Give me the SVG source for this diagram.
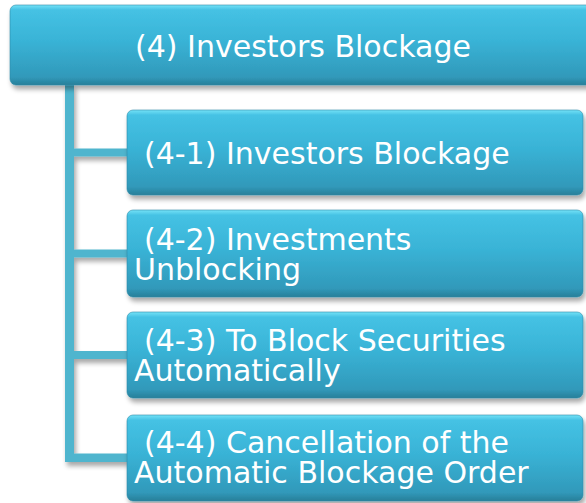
<svg xmlns="http://www.w3.org/2000/svg" width="586" height="503" viewBox="0 0 586 503">
  <defs>
    <linearGradient id="boxFill" x1="0" y1="0" x2="0" y2="1">
      <stop offset="0" stop-color="#74e2f7"/>
      <stop offset="0.06" stop-color="#45c2e4"/>
      <stop offset="0.45" stop-color="#39b3d6"/>
      <stop offset="0.9" stop-color="#3199ba"/>
      <stop offset="1" stop-color="#287f99"/>
    </linearGradient>
    <filter id="shadow" x="-10%" y="-10%" width="120%" height="130%">
      <feGaussianBlur in="SourceAlpha" stdDeviation="2.5"/>
      <feOffset dx="2" dy="4" result="b"/>
      <feComponentTransfer><feFuncA type="linear" slope="0.35"/></feComponentTransfer>
      <feMerge><feMergeNode/><feMergeNode in="SourceGraphic"/></feMerge>
    </filter>
  </defs>
  <style>
    .box { fill: url(#boxFill); stroke: #2c8ca8; stroke-width: 0.6; filter: url(#shadow); }
    .lbl { font-family: "DejaVu Sans", Verdana, sans-serif; font-size: 30px; fill: #ffffff; }
    .conn { fill: #4fb5ce; }
  </style>

  <g id="connectors" filter="url(#shadow)">
    <path class="conn" d="M65,85 H74 V148.5 H128 V156.5 H74 V249.5 H128 V257.5 H74 V351 H128 V359 H74 V453.5 H128 V462 H65 Z"/>
  </g>

  <g id="node-4">
    <rect class="box" x="10" y="5" width="590" height="80" rx="6"/>
    <text class="lbl" x="303" y="57" text-anchor="middle">(4) Investors Blockage</text>
  </g>

  <g id="node-4-1">
    <rect class="box" x="127" y="110" width="456" height="85" rx="6"/>
    <text class="lbl" x="144" y="163.5">(4-1) Investors Blockage</text>
  </g>

  <g id="node-4-2">
    <rect class="box" x="127" y="210" width="456" height="87" rx="6"/>
    <text class="lbl"><tspan x="144" y="249.5">(4-2) Investments</tspan><tspan x="134" y="279.5">Unblocking</tspan></text>
  </g>

  <g id="node-4-3">
    <rect class="box" x="127" y="312" width="456" height="86" rx="6"/>
    <text class="lbl"><tspan x="144" y="350.5">(4-3) To Block Securities</tspan><tspan x="134" y="380.5">Automatically</tspan></text>
  </g>

  <g id="node-4-4">
    <rect class="box" x="127" y="415" width="456" height="86" rx="6"/>
    <text class="lbl"><tspan x="144" y="452.5">(4-4) Cancellation of the</tspan><tspan x="134" y="482.5">Automatic Blockage Order</tspan></text>
  </g>
</svg>
